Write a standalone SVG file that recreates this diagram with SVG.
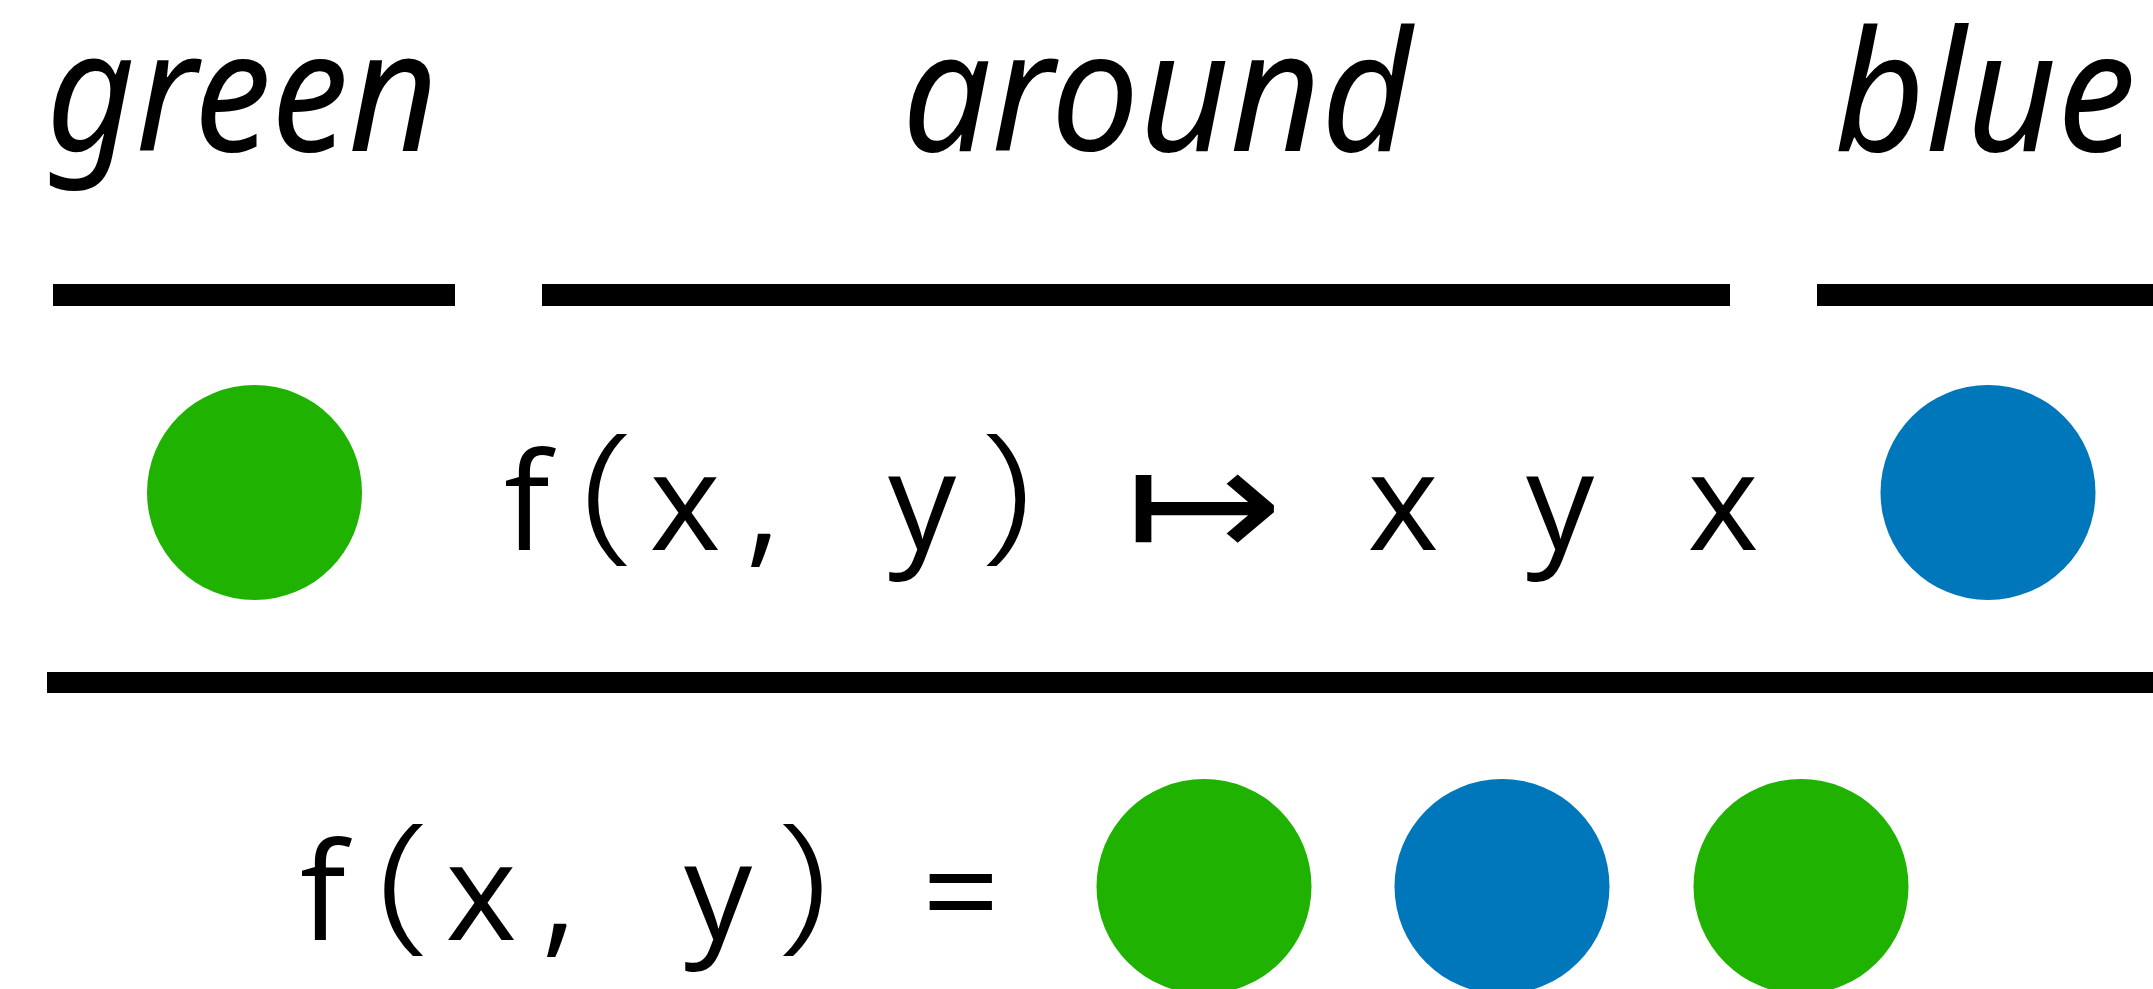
<svg xmlns="http://www.w3.org/2000/svg" width="2153" height="989" viewBox="0 0 2153 989">
<style>
.lbl{font-family:"Noto Sans","Open Sans","DejaVu Sans",sans-serif;font-style:italic;font-size:168px;fill:#000}
.m{font-family:"Open Sans","Noto Sans","DejaVu Sans",sans-serif;font-size:136px;fill:#000;text-anchor:middle}
.p{font-family:"Open Sans","Noto Sans","DejaVu Sans",sans-serif;font-size:151px;font-weight:300;fill:#000;text-anchor:middle}
.arr{font-family:"DejaVu Sans",sans-serif;font-size:160px;fill:#000;text-anchor:middle}
.bar{fill:#000}
.g{fill:#1FB200}
.b{fill:#0077BB}
</style>
<rect width="2153" height="989" fill="#fff"/>
<g id="labels">
<text class="lbl" x="46" y="151" textLength="392" lengthAdjust="spacingAndGlyphs">green</text>
<text class="lbl" x="902" y="151" textLength="510" lengthAdjust="spacingAndGlyphs">around</text>
<text class="lbl" x="1834" y="151" textLength="302" lengthAdjust="spacingAndGlyphs">blue</text>
</g>
<g id="bars">
<rect class="bar" x="53" y="284" width="402" height="22"/>
<rect class="bar" x="542" y="284" width="1188" height="22"/>
<rect class="bar" x="1817" y="284" width="340" height="22"/>
<rect class="bar" x="47" y="672" width="2110" height="21"/>
</g>
<g id="node-green-top"><circle class="g" cx="254.5" cy="492.5" r="107.5"/></g>
<g id="node-blue-top"><circle class="b" cx="1988" cy="492.5" r="107.5"/></g>
<g id="rule">
<text class="m" x="527" y="550">f</text>
<text class="p" transform="translate(607,541.8) scale(1.3,1)" x="0" y="0">(</text>
<text class="m" x="685" y="550">x</text>
<text class="m" x="763" y="550">,</text>
<text class="m" x="922" y="550">y</text>
<text class="p" transform="translate(1006.5,541.8) scale(1.3,1)" x="0" y="0">)</text>
<text class="arr" transform="translate(1204,559) scale(1.18,1)" x="0" y="0">↦</text>
<text class="m" x="1403" y="550">x</text>
<text class="m" x="1560" y="550">y</text>
<text class="m" x="1723" y="550">x</text>
</g>
<g id="result">
<text class="m" x="323" y="940">f</text>
<text class="p" transform="translate(403,931.8) scale(1.3,1)" x="0" y="0">(</text>
<text class="m" x="481" y="940">x</text>
<text class="m" x="559" y="940">,</text>
<text class="m" x="718" y="940">y</text>
<text class="p" transform="translate(803,931.8) scale(1.3,1)" x="0" y="0">)</text>
<text class="m" x="961" y="940">=</text>
</g>
<g id="node-green-1"><circle class="g" cx="1204" cy="886.5" r="107.5"/></g>
<g id="node-blue-2"><circle class="b" cx="1502" cy="886.5" r="107.5"/></g>
<g id="node-green-3"><circle class="g" cx="1801" cy="886.5" r="107.5"/></g>
</svg>
